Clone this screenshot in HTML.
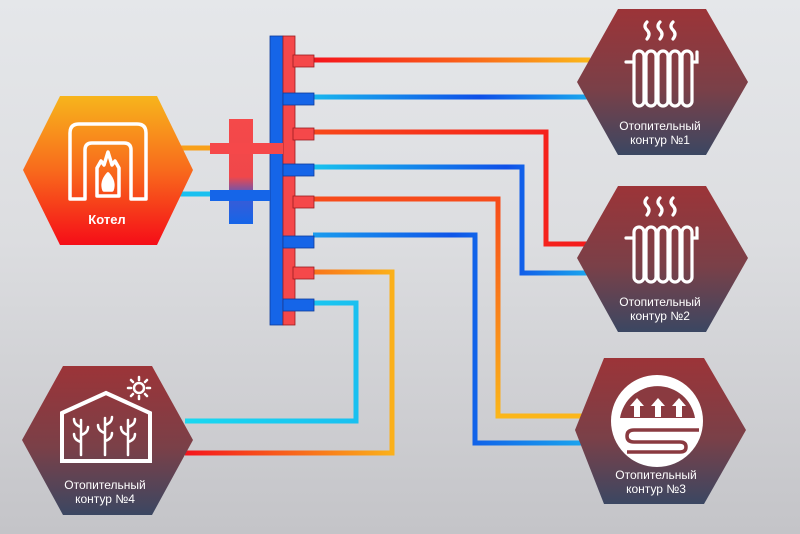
<!DOCTYPE html>
<html><head><meta charset="utf-8"><style>
html,body{margin:0;padding:0;}
body{width:800px;height:534px;overflow:hidden;background:linear-gradient(#e5e7ea 0%,#dcdde0 45%,#c4c4c8 100%);font-family:"Liberation Sans",sans-serif;}
svg{display:block}
</style></head><body>
<svg width="800" height="534" viewBox="0 0 800 534" xmlns="http://www.w3.org/2000/svg">
<defs>
<linearGradient id="hexd" x1="0" y1="0" x2="0" y2="1"><stop offset="0" stop-color="#9c3438"/><stop offset="0.55" stop-color="#7a4048"/><stop offset="1" stop-color="#3b4762"/></linearGradient>
<linearGradient id="hexk" x1="0" y1="0" x2="0" y2="1"><stop offset="0" stop-color="#f7b51c"/><stop offset="0.5" stop-color="#f86a1c"/><stop offset="1" stop-color="#f50d18"/></linearGradient>
<linearGradient id="g1" gradientUnits="userSpaceOnUse" x1="313" y1="0" x2="590" y2="0"><stop offset="0" stop-color="#f5141c"/><stop offset="0.5" stop-color="#fa5a1a"/><stop offset="1" stop-color="#fbb81a"/></linearGradient>
<linearGradient id="g2" gradientUnits="userSpaceOnUse" x1="313" y1="0" x2="590" y2="0"><stop offset="0" stop-color="#19b6ee"/><stop offset="0.6" stop-color="#0f4fe8"/><stop offset="1" stop-color="#1aa8ee"/></linearGradient>
<linearGradient id="g3" gradientUnits="userSpaceOnUse" x1="313" y1="0" x2="590" y2="0"><stop offset="0" stop-color="#f7481a"/><stop offset="1" stop-color="#f51a1c"/></linearGradient>
<linearGradient id="g4" gradientUnits="userSpaceOnUse" x1="313" y1="0" x2="590" y2="0"><stop offset="0" stop-color="#18c3ee"/><stop offset="0.7" stop-color="#0f4fe8"/><stop offset="1" stop-color="#1aa8ee"/></linearGradient>
<linearGradient id="g5" gradientUnits="userSpaceOnUse" x1="0" y1="198" x2="0" y2="420"><stop offset="0" stop-color="#f74a1a"/><stop offset="1" stop-color="#fbb81a"/></linearGradient>
<linearGradient id="g6" gradientUnits="userSpaceOnUse" x1="313" y1="0" x2="590" y2="0"><stop offset="0" stop-color="#1a9cee"/><stop offset="0.5" stop-color="#0f55e8"/><stop offset="1" stop-color="#1aa8ee"/></linearGradient>
<linearGradient id="g7" gradientUnits="userSpaceOnUse" x1="185" y1="0" x2="392" y2="0"><stop offset="0" stop-color="#f5141c"/><stop offset="1" stop-color="#fbb01a"/></linearGradient>
<linearGradient id="g8" gradientUnits="userSpaceOnUse" x1="185" y1="0" x2="356" y2="0"><stop offset="0" stop-color="#19d8f0"/><stop offset="1" stop-color="#19c0f0"/></linearGradient>
<linearGradient id="cross" x1="0" y1="0" x2="0" y2="1"><stop offset="0" stop-color="#f5494a"/><stop offset="0.55" stop-color="#f0474a"/><stop offset="0.75" stop-color="#3a5bd6"/><stop offset="1" stop-color="#1565e8"/></linearGradient>
</defs>

<g fill="none" stroke-width="5" stroke-linejoin="miter">
<polyline points="313,60 590,60" stroke="url(#g1)"/>
<polyline points="313,97 590,97" stroke="url(#g2)"/>
<polyline points="313,132 546,132 546,244 590,244" stroke="url(#g3)"/>
<polyline points="313,167 522,167 522,273 590,273" stroke="url(#g4)"/>
<polyline points="313,199 498,199 498,416 590,416" stroke="url(#g5)"/>
<polyline points="313,235 475,235 475,443 590,443" stroke="url(#g6)"/>
<polyline points="313,272 392,272 392,453 185,453" stroke="url(#g7)"/>
<polyline points="313,303 356,303 356,421 185,421" stroke="url(#g8)"/>
<line x1="180" y1="148" x2="212" y2="148" stroke="#f8a01a"/>
<line x1="180" y1="194" x2="212" y2="194" stroke="#19c0f0"/>
</g>

<g>
<rect x="270" y="36" width="13" height="289" fill="#1565e8" stroke="#0d3a9a" stroke-width="0.8"/>
<rect x="283" y="36" width="12" height="289" fill="#f5484a" stroke="#9a1d20" stroke-width="0.8"/>
<g fill="#f5484a" stroke="#9a1d20" stroke-width="0.8">
<rect x="293" y="55" width="21" height="12"/>
<rect x="293" y="128" width="21" height="12"/>
<rect x="293" y="196" width="21" height="12"/>
<rect x="293" y="267" width="21" height="12"/>
</g>
<g fill="#1565e8" stroke="#0d3a9a" stroke-width="0.8">
<rect x="283" y="93" width="31" height="12"/>
<rect x="283" y="164" width="31" height="12"/>
<rect x="283" y="236" width="31" height="12"/>
<rect x="283" y="299" width="31" height="12"/>
</g>
<rect x="229" y="119" width="24" height="105" fill="url(#cross)"/>
<rect x="210" y="143" width="73" height="11" fill="#f5484a"/>
<rect x="210" y="190" width="60" height="11" fill="#1565e8"/>
</g>

<polygon points="60,96 157,96 193,170 157,245 60,245 23,170" fill="url(#hexk)"/>
<g fill="none" stroke="#fff" stroke-width="3.5" stroke-linejoin="round">
<path d="M70,199 L70,133 Q70,124 79,124 L137,124 Q146,124 146,133 L146,199 L131,199 L131,150 Q131,143 124,143 L92,143 Q85,143 85,150 L85,199 Z"/>
<path d="M97,196 L97,168 L101,161 L104,165 L108,152 L112,165 L115,161 L119,168 L119,196 Z"/>
<path d="M104,190 Q101,182 108,174 Q115,182 112,190 Z" fill="#fff"/>
</g>
<text x="107" y="224" fill="#fff" font-size="13" font-weight="bold" text-anchor="middle">Котел</text>

<polygon points="618,9 706,9 748,82 706,155 618,155 577,82" fill="url(#hexd)"/>
<polygon points="618,186 706,186 748,258 706,332 618,332 577,258" fill="url(#hexd)"/>
<polygon points="604,358 704,358 746,430 704,504 604,504 575,430" fill="url(#hexd)"/>
<polygon points="63,366 152,366 193,440 152,515 63,515 22,440" fill="url(#hexd)"/>

<g id="rad" fill="none" stroke="#fff" stroke-width="3.2" stroke-linecap="round">
<path d="M647,22 q-4,4 0,8 q4,4 0,9"/><path d="M660,22 q-4,4 0,8 q4,4 0,9"/><path d="M673,22 q-4,4 0,8 q4,4 0,9"/>
<rect x="634" y="51" width="10" height="55" rx="5"/>
<rect x="646" y="51" width="10" height="55" rx="5"/>
<rect x="658" y="51" width="10" height="55" rx="5"/>
<rect x="670" y="51" width="10" height="55" rx="5"/>
<rect x="682" y="51" width="10" height="55" rx="5"/>
<path d="M626,62 L634,62 M692,62 L697,62 L697,52"/>
</g>
<use href="#rad" transform="translate(0,176)"/>

<circle cx="657" cy="421" r="46" fill="#fff"/>
<path d="M620,418 A38,38 0 0 1 695,418 Z" fill="#8a3a40"/>
<g fill="#fff">
<polygon points="637,398 630,406 634,406 634,417 640,417 640,406 644,406"/>
<polygon points="658,398 651,406 655,406 655,417 661,417 661,406 665,406"/>
<polygon points="679,398 672,406 676,406 676,417 682,417 682,406 686,406"/>
</g>
<path d="M699,430 L634,430 Q627,430 627,436 Q627,442 634,442 L680,442 Q686,442 686,447 Q686,452 680,452 L627,452" fill="none" stroke="#8a3a40" stroke-width="3.5"/>

<g fill="none" stroke="#fff" stroke-width="4" stroke-linejoin="miter">
<path d="M62,413 L106,393 L150,413 L150,461 L62,461 Z"/>
</g>
<g fill="none" stroke="#fff" stroke-width="2.5" stroke-linecap="round">
<path d="M81,455 L81,420 M81,427 q-7,-2 -7,-8 M81,435 q7,-2 7,-8 M81,442 q-7,-2 -7,-8"/>
<path d="M105,455 L105,418 M105,425 q7,-2 7,-8 M105,433 q-7,-2 -7,-8 M105,441 q7,-2 7,-8"/>
<path d="M128,455 L128,420 M128,427 q7,-2 7,-8 M128,435 q-7,-2 -7,-8 M128,442 q7,-2 7,-8"/>
<circle cx="139" cy="388" r="5"/>
<path d="M139,377 v3 M139,396 v3 M128,388 h3 M147,388 h3 M131,380 l2,2 M145,394 l2,2 M131,396 l2,-2 M145,382 l2,-2"/>
</g>

<g fill="#fff" font-size="12" text-anchor="middle">
<text x="660" y="130">Отопительный</text><text x="660" y="144">контур  №1</text>
<text x="660" y="306">Отопительный</text><text x="660" y="320">контур  №2</text>
<text x="656" y="479">Отопительный</text><text x="656" y="493">контур  №3</text>
<text x="105" y="489">Отопительный</text><text x="105" y="503">контур  №4</text>
</g>
</svg>
</body></html>
